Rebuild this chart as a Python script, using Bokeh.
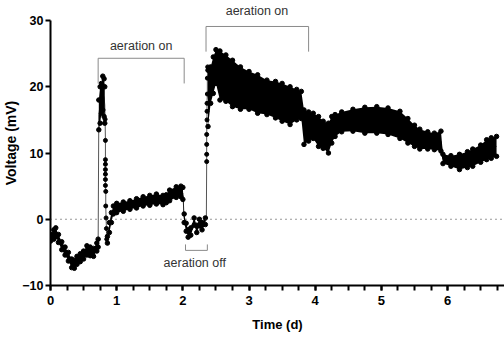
import numpy as np
from bokeh.plotting import figure
from bokeh.models import Range1d, Label, FixedTicker, Span
from bokeh.embed import file_html
from bokeh.resources import INLINE

# ---- data ----
# segment A: before first aeration
t_a = [0.00, 0.05, 0.08, 0.12, 0.17, 0.22, 0.27, 0.32, 0.36, 0.40, 0.45, 0.50, 0.55, 0.60, 0.65, 0.70, 0.72]
lo_a = [-3.3, -3.0, -2.6, -3.5, -4.6, -5.4, -6.3, -7.3, -7.4, -6.8, -6.4, -6.0, -5.4, -5.5, -5.6, -4.8, -4.2]
hi_a = [-2.3, -1.6, -1.3, -2.3, -3.4, -4.2, -5.0, -6.0, -6.2, -5.6, -5.2, -4.8, -4.0, -4.2, -4.4, -3.6, -3.0]

# segment B: spike at start of aeration
t_b = [0.73, 0.75, 0.77, 0.79, 0.81, 0.82]
lo_b = [13.5, 14.5, 16.0, 16.5, 15.5, 14.5]
hi_b = [18.0, 20.0, 20.5, 21.6, 21.2, 20.0]

# falling points after the spike
t_drop = [0.825, 0.83, 0.83, 0.83, 0.83, 0.83, 0.83, 0.83, 0.835, 0.835, 0.84, 0.845, 0.85]
v_drop = [15.1, 11.9, 9.0, 8.3, 7.5, 6.8, 6.0, 5.1, 4.2, 2.0, 0.2, -1.4, -3.0]

# segment C/D: recovery, slow rise, aeration off
t_c = [0.86, 0.89, 0.92, 0.95, 1.00, 1.10, 1.20, 1.30, 1.40, 1.50, 1.60, 1.70, 1.75, 1.80, 1.90, 1.97, 2.00,
       2.02, 2.05, 2.08, 2.12, 2.17, 2.21, 2.25, 2.29, 2.34]
lo_c = [-3.6, -2.0, -0.5, 0.8, 1.0, 1.2, 1.5, 1.7, 2.0, 2.1, 2.3, 2.2, 2.5, 2.8, 3.3, 3.4, 3.0,
        -0.5, -1.8, -2.7, -2.4, -0.9, -2.0, -1.0, -1.6, -0.8]
hi_c = [-2.6, -0.5, 1.0, 2.0, 2.4, 2.6, 2.8, 3.1, 3.4, 3.6, 3.8, 3.6, 3.7, 4.4, 4.9, 5.0, 4.8,
        0.8, -0.6, -1.6, -1.3, 0.2, -0.9, 0.0, -0.5, 0.2]

# rising points at second aeration
t_rise = [2.355, 2.36, 2.36, 2.36, 2.36, 2.365, 2.365, 2.365, 2.37, 2.37, 2.375]
v_rise = [0.0, 8.7, 9.8, 11.3, 12.8, 15.0, 16.3, 17.5, 18.9, 21.3, 23.0]

# segment E/F: second aeration and after
t_e = [2.38, 2.42, 2.46, 2.50, 2.56, 2.65, 2.75, 2.87, 3.00, 3.13, 3.27, 3.40, 3.50, 3.62, 3.72, 3.79,
       3.83, 3.90, 3.97, 4.05, 4.12, 4.20, 4.25, 4.30, 4.40, 4.57, 4.75, 4.93, 5.10, 5.28, 5.40, 5.50,
       5.58, 5.70, 5.80, 5.90, 5.93, 6.05, 6.18, 6.30, 6.38, 6.50, 6.59, 6.66, 6.74]
lo_e = [14.0, 17.5, 19.0, 20.5, 18.0, 17.8, 17.0, 16.6, 16.6, 16.0, 15.8, 15.3, 14.8, 14.3, 15.0, 15.2,
        11.3, 11.8, 12.2, 11.0, 10.7, 10.0, 11.5, 12.5, 13.2, 13.3, 13.0, 13.0, 12.8, 12.2, 11.5, 11.0,
        10.6, 10.6, 10.5, 10.3, 8.4, 8.0, 7.5, 7.8, 8.0, 8.6, 9.0, 9.2, 9.5]
hi_e = [22.5, 23.0, 24.5, 25.6, 25.4, 24.8, 24.0, 23.0, 22.3, 21.8, 21.0, 20.8, 20.5, 20.0, 19.6, 19.3,
        16.5, 16.2, 16.0, 15.5, 14.8, 14.5, 15.5, 15.8, 16.2, 16.6, 16.9, 17.0, 16.8, 16.3, 15.2, 14.2,
        13.6, 13.2, 13.0, 13.3, 9.8, 9.6, 9.8, 10.2, 10.6, 11.2, 12.0, 12.3, 12.5]

# annotations (brackets and labels)
br1_x = [0.72, 0.72, 2.02, 2.02]
br1_y = [20.5, 24.3, 24.3, 20.5]
br2_x = [2.35, 2.35, 3.90, 3.90]
br2_y = [25.3, 29.1, 29.1, 25.3]
br3_x = [2.04, 2.04, 2.37, 2.37]
br3_y = [-3.8, -4.7, -4.7, -3.8]
lab_text = ["aeration on", "aeration on", "aeration off"]
lab_x = [1.37, 3.12, 2.18]
lab_y = [26.1, 31.4, -6.6]

x_ticks = [0, 1, 2, 3, 4, 5, 6]
x_minor = [i * 0.25 for i in range(0, 28)]
y_ticks = [-10, 0, 10, 20, 30]

FONT = "Liberation Sans"

p = figure(width=504, height=338, output_backend="svg", toolbar_location=None,
           x_range=Range1d(0, 6.86), y_range=Range1d(-10, 33.02),
           min_border_left=50, min_border_right=0, min_border_top=0, min_border_bottom=53)
p.grid.visible = False
p.outline_line_color = None
p.background_fill_color = "white"
p.border_fill_color = "white"

# zero line
p.add_layout(Span(location=0, dimension="width", line_color="#333333", line_width=1.2, line_dash="1 4"))

# connecting line through the series
segs = [(t_a, lo_a, hi_a), (t_b, lo_b, hi_b), (t_c, lo_c, hi_c), (t_e, lo_e, hi_e)]
mid_a = list((np.array(lo_a) + np.array(hi_a)) / 2)
mid_b = list((np.array(lo_b) + np.array(hi_b)) / 2)
mid_c = list((np.array(lo_c) + np.array(hi_c)) / 2)
mid_e = list((np.array(lo_e) + np.array(hi_e)) / 2)
line_t = t_a + t_b + t_drop + t_c + t_rise + t_e
line_v = mid_a + mid_b + v_drop + mid_c + v_rise + mid_e
p.line(line_t, line_v, line_color="#555555", line_width=1)

for t, lo, hi in segs:
    p.varea(x=t, y1=lo, y2=hi, fill_color="black")
    p.scatter(t, lo, size=4.5, color="black")
    p.scatter(t, hi, size=4.5, color="black")

p.scatter(t_drop, v_drop, size=4, color="black")
p.scatter(t_rise[1:], v_rise[1:], size=4, color="black")

# brackets
for bx, by in [(br1_x, br1_y), (br2_x, br2_y), (br3_x, br3_y)]:
    p.line(bx, by, line_color="#8a8a8a", line_width=1)

for txt, lx, ly in zip(lab_text, lab_x, lab_y):
    p.add_layout(Label(x=lx, y=ly, text=txt, text_align="center", text_baseline="middle",
                       text_font=FONT, text_font_size="12.5px", text_color="#333333"))

# axes
for ax in (p.xaxis[0], p.yaxis[0]):
    ax.axis_line_width = 2
    ax.axis_line_color = "black"
    ax.major_tick_line_width = 2
    ax.minor_tick_line_width = 2
    ax.major_tick_in = 0
    ax.major_tick_out = 5
    ax.minor_tick_in = 0
    ax.minor_tick_out = 5
    ax.major_label_text_font = FONT
    ax.major_label_text_font_style = "bold"
    ax.major_label_text_color = "black"
    ax.axis_label_text_font = FONT
    ax.axis_label_text_font_style = "bold"
    ax.axis_label_text_color = "black"

p.xaxis.major_label_text_font_size = "13px"
p.yaxis.major_label_text_font_size = "12.5px"
p.xaxis.axis_label_text_font_size = "13px"
p.yaxis.axis_label_text_font_size = "14px"
p.yaxis.bounds = (-10, 30)
p.xaxis.ticker = FixedTicker(ticks=x_ticks, minor_ticks=x_minor)
p.yaxis.ticker = FixedTicker(ticks=y_ticks, minor_ticks=[])
p.xaxis.axis_label = "Time (d)"
p.yaxis.axis_label = "Voltage (mV)"
p.xaxis.major_label_standoff = 5
p.xaxis.axis_label_standoff = 9
p.yaxis.major_label_standoff = 2
p.yaxis.axis_label_standoff = 0

open("out.html", "w").write(file_html(p, INLINE))
